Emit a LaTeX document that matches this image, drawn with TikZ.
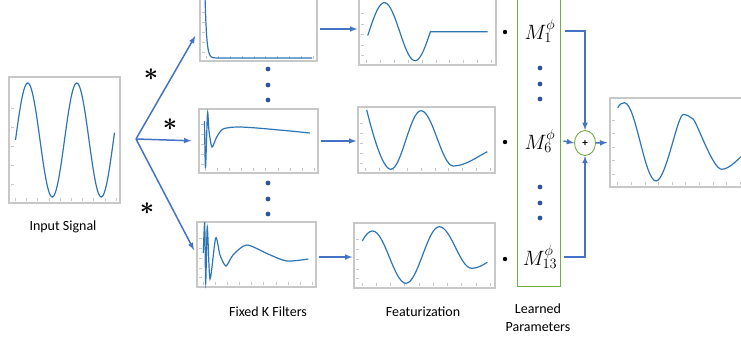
\documentclass[tikz,border=0pt]{standalone}
\usepackage{fontspec}
\setmainfont{Carlito}
\usetikzlibrary{calc,shapes.geometric}
\definecolor{lineblue}{RGB}{68,114,196}
\definecolor{curveblue}{RGB}{46,117,182}
\definecolor{framegray}{RGB}{200,200,200}
\definecolor{boxgreen}{RGB}{112,173,71}
\definecolor{dotblue}{RGB}{47,85,151}
\begin{document}
\begin{tikzpicture}[x=1pt,y=-1pt]
        % Styles
        \tikzstyle{plot box}=[draw=framegray,line width=1.4pt,inner sep=0pt]
        \tikzstyle{signal}=[curveblue,line width=1.2pt]
        \tikzstyle{flow}=[lineblue,line width=1.5pt,->,>=latex]
        \tikzstyle{tick}=[framegray,line width=0.5pt]
        \tikzstyle{caption}=[font=\fontsize{14}{16}\selectfont,align=center]
        \tikzstyle{mlabel}=[font=\fontsize{20}{22}\selectfont,inner sep=0pt]
        \tikzstyle{star}=[font=\fontsize{25}{25}\selectfont\boldmath,inner sep=0pt]
        \useasboundingbox (0,0) rectangle (741,339);
        \clip (0,0) rectangle (741,339);
        %plot frames
        \node[plot box,minimum width=111,minimum height=126] (in) at (64.5,140) {};
        \node[plot box,minimum width=117,minimum height=64] (f1) at (258.5,29) {};
        \node[plot box,minimum width=119,minimum height=64] (f6) at (258.5,141) {};
        \node[plot box,minimum width=119,minimum height=65] (f13) at (256.5,254.5) {};
        \node[plot box,minimum width=137,minimum height=68] (g1) at (427.5,31) {};
        \node[plot box,minimum width=137,minimum height=66] (g6) at (426.5,140) {};
        \node[plot box,minimum width=141,minimum height=65] (g13) at (424.5,255.5) {};
        \node[plot box,minimum width=135,minimum height=89] (out) at (677.5,142.5) {};
        \foreach \b in {in,f1,f6,f13,g1,g6,g13,out}
        {
            \foreach \t in {0.06,0.16,...,0.97}
            \draw[tick] ($(\b.south west)!\t!(\b.south east)+(0,-3)$) -- ++(0,-2.5);
            \foreach \t in {0.15,0.3,...,0.9}
            \draw[tick] ($(\b.south west)!\t!(\b.north west)+(3,0)$) -- ++(2.5,0);
        }
        %learned parameters
        \node[draw=boxgreen,line width=1pt,minimum width=43,minimum height=289] (lp) at (538.5,141.5) {};
        \node[mlabel] (m1) at (540,31) {$M_{1}^{\phi}$};
        \node[mlabel] (m6) at (540,141) {$M_{6}^{\phi}$};
        \node[mlabel] (m13) at (540,257) {$M_{13}^{\phi}$};
        \node[draw=boxgreen,ellipse,line width=0.9pt,minimum width=21,minimum height=25,inner sep=0pt,font=\fontsize{11}{11}\selectfont\bfseries] (sum) at (585,143) {+};
        %signals
        \draw[signal,domain=15.5:114.5,samples=100] plot (\x,{140-57*sin((\x-15.5)/49*360)});
        \draw[signal,domain=205:240,samples=80] plot (\x,{58-62*exp(-(\x-205)/1.6)}) -- (312,58);
        \draw[signal] plot[smooth,tension=0.45] coordinates {(204.5,121) (205.5,168) (207.5,113) (209,131) (212,147) (216.7,137) (223,129) (236.7,127) (256.7,128) (290,131) (310,133)};
        \draw[signal] plot[smooth,tension=0.45] coordinates {(203.3,253) (204.7,223) (205.7,283) (207.3,227) (210,279) (215.7,238) (220,255) (226,266) (233,255) (246.7,245) (268,254) (286.7,261) (308.3,259)};
        \draw[signal,domain=367.7:430.4,samples=60] plot (\x,{31.7-29*sin((\x-369)/61.4*360)}) -- (487.7,31.7);
        \draw[signal] (366.7,110) .. controls +(4,16) and +(-9,0) .. (390.7,169.3)
            .. controls +(11,0) and +(-11,0) .. (421,110.7)
            .. controls +(11.7,0) and +(-11.7,0) .. (453.3,166)
            .. controls +(12,0) and +(-10,5) .. (487.3,151.7);
        \draw[signal] (362.3,241) .. controls +(3,-6) and +(-4,0) .. (372.7,231)
            .. controls +(12,0) and +(-12,0) .. (406,283.3)
            .. controls +(12,0) and +(-12,0) .. (439.3,226.7)
            .. controls +(11.8,0) and +(-11.8,0) .. (471.7,268.3)
            .. controls +(6,0) and +(-5,3) .. (487.3,262.3);
        \draw[signal] (617.7,107.7) .. controls +(2,-3.5) and +(-2.5,0) .. (624.3,102.7)
            .. controls +(11.5,0) and +(-11.5,0) .. (656,181)
            .. controls +(10,0) and +(-6,0) .. (683.3,114.5)
            .. controls +(4,0) and +(-3,-2) .. (693,119)
            .. controls +(4,3) and +(-9,0) .. (721.7,169.3)
            .. controls +(8,0) and +(-6,5) .. (745,153);
        %branching
        \coordinate (split) at (136,139);
        \draw[flow,shorten >=8pt] (split) -- (f1.west);
        \draw[flow,shorten >=7pt] (split) -- (f6.west);
        \draw[flow,shorten >=5pt] (split) -- (f13.west);
        \node[star] (s1) at (151,75) {$\ast$};
        \node[star] (s6) at (170,125) {$\ast$};
        \node[star] (s13) at (147,209) {$\ast$};
        \draw[flow,shorten <=2pt,shorten >=1pt] (f1.east) -- (f1.east -| g1.west);
        \draw[flow,shorten <=2pt,shorten >=1pt] (f6.east) -- (f6.east -| g6.west);
        \draw[flow,shorten <=2pt,shorten >=1pt] ($(f13.east)+(0,2.5)$) -- ($(f13.east -| g13.west)+(0,2.5)$);
        %dots
        \foreach \y in {69,85,100,183,199,214}
            \fill[dotblue] (268,\y) circle (2.4);
        \foreach \y in {68,84,99,187,203,218}
            \fill[dotblue] (540,\y) circle (2.4);
        \foreach \y in {32,142,259}
            \fill (505,\y) circle (2.2);
        %summation
        \draw[flow] ($(lp.east |- m1)+(4,0)$) -| (sum.north);
        \draw[flow] ($(lp.east |- m13)+(3,0)$) -| (sum.south);
        \draw[flow] ($(lp.east |- m6)+(3,0)$) -- (sum.west);
        \draw[flow,shorten >=2pt] (sum.east) -- (out.west);
        %captions
        \node[caption] (lin) at (63,227) {Input Signal};
        \node[caption] (lf) at (268,312) {Fixed K Filters};
        \node[caption] (lg) at (423,312) {Featurization};
        \node[caption,font=\fontsize{14}{18}\selectfont] (ll) at (538,318) {Learned\\Parameters};
\end{tikzpicture}
\end{document}
